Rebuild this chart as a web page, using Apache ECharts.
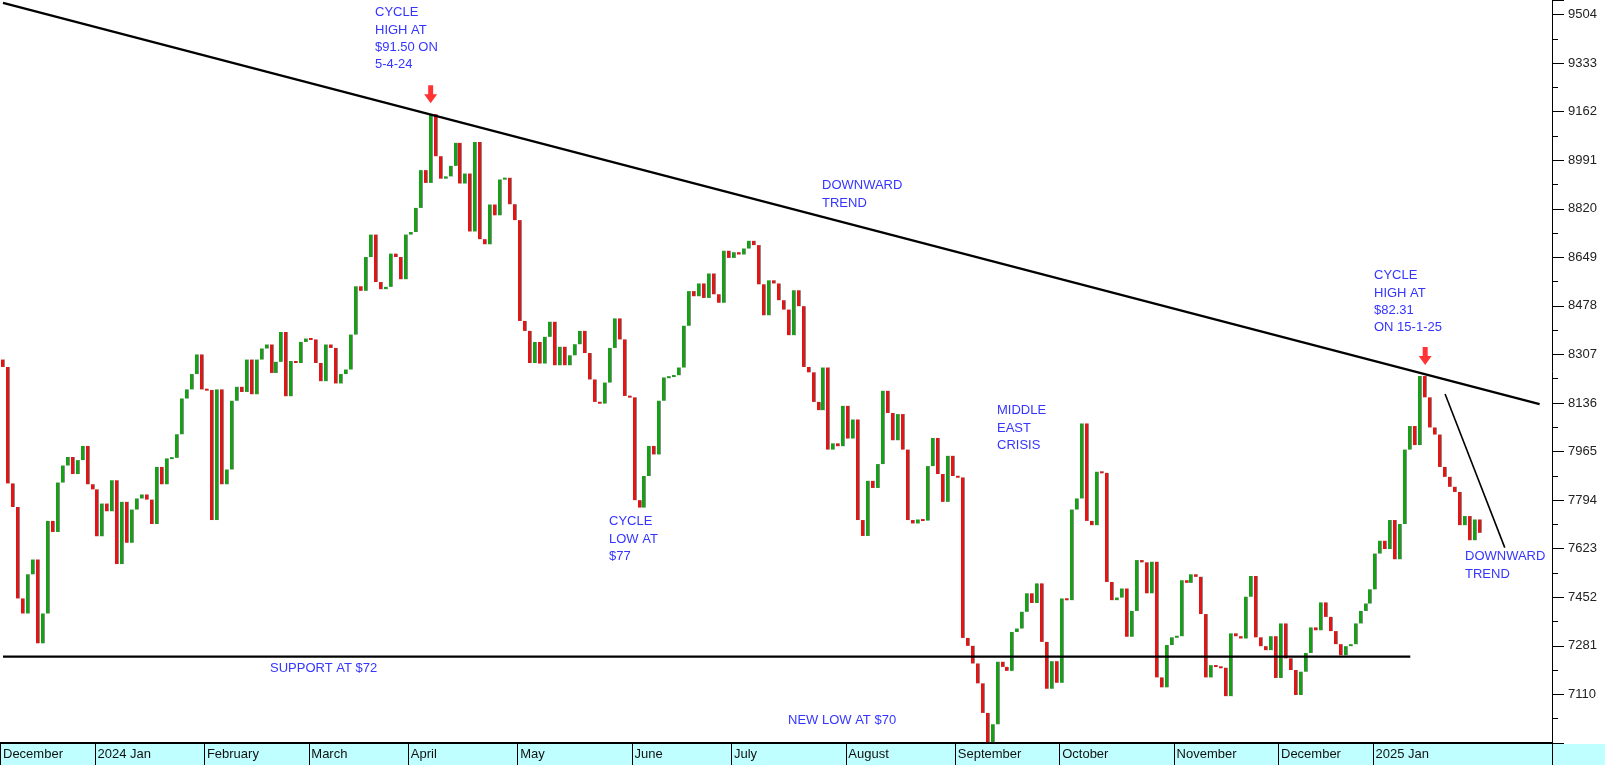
<!DOCTYPE html>
<html><head><meta charset="utf-8">
<script src="https://cdn.jsdelivr.net/npm/echarts@6/dist/echarts.min.js"></script>
<style>html,body{margin:0;padding:0;background:#fff}#c{width:1605px;height:765px}</style>
</head><body><div id="c"></div>
<script>
// ---- data ----
const startDate = '2023-12-04';
const holidays = ['2023-12-25','2024-01-01','2024-03-29','2024-12-25','2024-12-26','2024-12-31','2025-01-01'];
const categoryCount = 312;
const firstOpen = 8289;
const closes = [
8263,7853,7770,7448,7395,7533,7585,7290,7395,7721,
7682,7856,7916,7946,7886,7935,7985,7850,7832,7667,
7782,7755,7864,7569,7788,7644,7761,7800,7814,7796,
7710,7911,7850,7941,7943,8026,8152,8184,8238,8307,
8184,8182,7724,8184,7850,7902,8144,8193,8175,8289,
8167,8289,8328,8342,8242,8281,8386,8160,8284,8277,
8351,8363,8360,8277,8213,8342,8330,8205,8238,8254,
8377,8547,8531,8650,8729,8562,8537,8545,8662,8650,
8572,8729,8738,8823,8956,8911,9153,9005,8926,8934,
8971,9052,8909,8944,8740,9055,8713,8695,8835,8797,
8923,8929,8836,8780,8425,8390,8277,8351,8275,8369,
8422,8269,8334,8269,8304,8343,8390,8312,8219,8140,
8134,8208,8330,8434,8360,8161,8156,7794,7768,7879,
7985,7955,8144,8226,8228,8234,8261,8408,8530,8512,
8557,8506,8592,8519,8489,8672,8647,8667,8659,8680,
8707,8692,8554,8445,8568,8557,8498,8465,8375,8533,
8477,8263,8244,8140,8111,8261,7972,7994,7984,8126,
8011,8078,7724,7668,7862,7837,7921,8179,8101,8005,
8097,7972,7724,7712,7726,7722,7914,8013,7886,7788,
7950,7879,7874,7309,7281,7219,7149,7045,6942,7005,
7225,7207,7193,7330,7342,7401,7466,7432,7501,7295,
7130,7227,7151,7448,7442,7761,7800,8064,7721,7706,
7894,7890,7506,7442,7451,7483,7313,7404,7583,7575,
7466,7577,7170,7135,7284,7311,7315,7512,7503,7533,
7524,7393,7170,7213,7207,7204,7104,7325,7315,7307,
7454,7527,7311,7280,7266,7315,7168,7360,7237,7196,
7108,7190,7256,7346,7336,7434,7383,7333,7287,7248,
7280,7287,7360,7404,7430,7480,7606,7651,7622,7724,
7586,7710,7972,8055,7988,8231,8156,8050,8025,7911,
7876,7841,7823,7706,7738,7653,7726,7679
];
const monthNames = ['Jan','February','March','April','May','June','July','August','September','October','November','December'];
const yMin = 6939, yMax = 9555, yInterval = 171;
// [bar index, value]
const trendHigh = [[0, 9545], [309, 8132]];
const trendShort = [[290, 8168], [302, 7627]];
const supportLine = [[0, 7243], [283, 7243]];
const highPoints = [[86, 9153], [286, 8231]];

// ---- categories (trading days) ----
function fmt(d){return d.getUTCFullYear()+'-'+String(d.getUTCMonth()+1).padStart(2,'0')+'-'+String(d.getUTCDate()).padStart(2,'0');}
const dates = [];
{ let d = new Date(startDate+'T00:00:00Z');
  while (dates.length < categoryCount) {
    const wd = d.getUTCDay(), s = fmt(d);
    if (wd !== 0 && wd !== 6 && holidays.indexOf(s) < 0) dates.push(s);
    d = new Date(d.getTime() + 86400000);
  } }
const isMonthStart = dates.map((s,i) => i < closes.length && (i === 0 || s.slice(0,7) !== dates[i-1].slice(0,7)));
function monthLabel(s){ const m = +s.slice(5,7)-1; return m === 0 ? s.slice(0,4)+' Jan' : monthNames[m]; }

const barData = closes.map((c,i) => [i, i === 0 ? firstOpen : closes[i-1], c]);

const GREEN = '#16a016', RED = '#e31414', SHADOW = '#8c8c8c';
const FONT = '"Liberation Sans", Arial, sans-serif';
const BLUE = '#3535ff';

const chart = echarts.init(document.getElementById('c'), null, {renderer:'canvas'});
function txt(left, top, text){
  return {type:'text', left:left, top:top, z:50, style:{text:text, fill:BLUE, font:'13px '+FONT, lineHeight:17.3}};
}
chart.setOption({
  animation:false,
  backgroundColor:'#ffffff',
  grid:{left:0, right:53, top:0, bottom:22, containLabel:false},
  xAxis:{
    type:'category', data:dates, boundaryGap:true,
    axisLine:{show:true, lineStyle:{color:'#000', width:2}},
    axisTick:{show:true, interval:(i)=>isMonthStart[i], length:22, lineStyle:{color:'#000', width:1}},
    axisLabel:{show:true, interval:(i)=>isMonthStart[i], formatter:(v)=>monthLabel(v), align:'left', margin:5,
      fontSize:13, fontFamily:FONT, color:'#111'},
    splitLine:{show:false}
  },
  yAxis:{
    type:'value', position:'right', min:yMin, max:yMax, interval:yInterval, scale:true,
    axisLine:{show:true, lineStyle:{color:'#000', width:1}},
    axisTick:{show:true, length:12, lineStyle:{color:'#000'}},
    minorTick:{show:true, splitNumber:2, length:6, lineStyle:{color:'#000'}},
    axisLabel:{show:true, margin:16, fontSize:13, fontFamily:FONT, color:'#222', showMinLabel:false, showMaxLabel:false,
      formatter:(v)=>String(Math.round(v))},
    splitLine:{show:false}
  },
  graphic:[
    {type:'rect', z:-100, shape:{x:0, y:744, width:1605, height:21}, style:{fill:'#c0ffff'}},
    txt(375, 4, 'CYCLE\nHIGH AT\n$91.50 ON\n5-4-24'),
    txt(822, 177, 'DOWNWARD\nTREND'),
    txt(1374, 267, 'CYCLE\nHIGH AT\n$82.31\nON 15-1-25'),
    txt(997, 402, 'MIDDLE\nEAST\nCRISIS'),
    txt(609, 513, 'CYCLE\nLOW AT\n$77'),
    txt(1465, 548, 'DOWNWARD\nTREND'),
    txt(270, 660, 'SUPPORT AT $72'),
    txt(788, 712, 'NEW LOW AT $70')
  ],
  series:[
    {
      type:'custom', data:barData, encode:{x:0, y:[1,2]}, clip:true, z:2,
      renderItem:function(params, api){
        const i = api.value(0), o = api.value(1), c = api.value(2);
        const p1 = api.coord([i, o]), p2 = api.coord([i, c]);
        const x = Math.round(p1[0]);
        let top = Math.min(p1[1], p2[1]), h = Math.abs(p1[1]-p2[1]);
        if (h < 2) { top = (p1[1]+p2[1])/2 - 1; h = 2; }
        const col = c > o ? GREEN : (c < o ? RED : SHADOW);
        return {type:'group', children:[
          {type:'rect', shape:{x:x-2, y:top, width:3, height:h}, style:{fill:col}},
          {type:'rect', shape:{x:x+1, y:top, width:1, height:h}, style:{fill:SHADOW}}
        ]};
      }
    },
    {type:'line', data:trendHigh, symbol:'none', z:5, lineStyle:{color:'#000', width:2.2}},
    {type:'line', data:supportLine, symbol:'none', z:5, lineStyle:{color:'#000', width:2.2}},
    {type:'line', data:trendShort, symbol:'none', z:5, lineStyle:{color:'#000', width:1.6}},
    {type:'scatter', data:highPoints, z:6,
      symbol:'path://M4,0 L9,0 L9,9 L13,9 L6.5,18 L0,9 L4,9 Z', symbolSize:[13,18], symbolOffset:[0,-20],
      itemStyle:{color:'#ff0000'}}
  ]
});
</script></body></html>
